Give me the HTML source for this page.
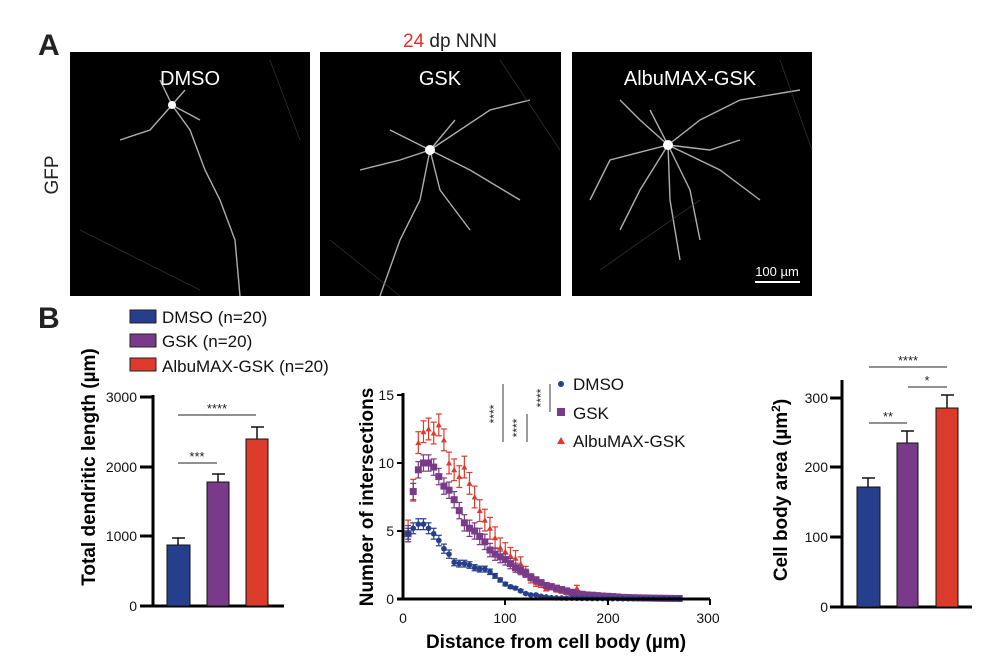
<!DOCTYPE html>
<html><head><meta charset="utf-8"><style>
body{margin:0;background:#fff;width:984px;height:666px;overflow:hidden;font-family:"Liberation Sans",sans-serif}
</style></head><body>
<svg id="s" width="984" height="666" xmlns="http://www.w3.org/2000/svg" font-family="Liberation Sans, sans-serif">
<text x="38" y="55" font-size="30" font-weight="bold" fill="#222">A</text>
<text x="450" y="47" font-size="19" text-anchor="middle" fill="#222"><tspan fill="#e0302a">24</tspan> dp NNN</text>
<text transform="translate(58,175) rotate(-90)" font-size="19" text-anchor="middle" fill="#222">GFP</text>
<rect x="70" y="52" width="240" height="244" fill="#000"/>
<rect x="320" y="52" width="241" height="244" fill="#000"/>
<rect x="572" y="52" width="240" height="244" fill="#000"/>
<g stroke="#ccc" fill="none" stroke-width="1.4" opacity="0.85">
<path d="M172 105 L150 130 L120 140 M172 105 L185 90 M172 105 L190 130 L205 170 L220 200 L235 240 L240 296 M172 105 L160 80 M172 105 L200 120"/>
<path d="M430 150 L400 160 L360 170 M430 150 L460 130 L490 110 L530 100 M430 150 L440 190 L470 230 M430 150 L420 200 L400 240 L380 296 M430 150 L390 130 M430 150 L470 170 L520 200 M430 150 L455 120"/>
<path d="M668 145 L640 120 L620 100 M668 145 L700 120 L740 100 L800 90 M668 145 L690 190 L700 240 M668 145 L640 190 L620 230 M668 145 L610 160 L590 200 M668 145 L720 170 L760 200 M668 145 L650 110 M668 145 L710 150 L740 140 M668 145 L670 200 L680 260"/>
</g>
<g stroke="#444" fill="none" stroke-width="0.8" opacity="0.7">
<path d="M80 230 L200 290 M270 60 L300 140 M330 240 L400 296 M500 60 L560 150 M600 270 L700 200 M780 60 L812 150"/>
</g>
<circle cx="172" cy="105" r="4" fill="#fff"/><circle cx="430" cy="150" r="5" fill="#fff"/><circle cx="668" cy="145" r="5" fill="#fff"/>
<g fill="#fff" font-size="20" text-anchor="middle"><text x="190" y="85">DMSO</text><text x="440" y="85">GSK</text><text x="690" y="85">AlbuMAX-GSK</text>
<text x="777" y="276" font-size="13">100 µm</text></g>
<line x1="755" y1="282" x2="800" y2="282" stroke="#fff" stroke-width="2"/>

<text x="38" y="328" font-size="30" font-weight="bold" fill="#222">B</text>
<g font-size="17" fill="#111">
<rect x="130" y="310" width="26" height="13" fill="#263f8c" stroke="#222"/><text x="162" y="323">DMSO (n=20)</text>
<rect x="130" y="334" width="26" height="13" fill="#7a3a8a" stroke="#222"/><text x="162" y="347">GSK (n=20)</text>
<rect x="130" y="358" width="26" height="13" fill="#e03a2c" stroke="#222"/><text x="162" y="372">AlbuMAX-GSK (n=20)</text>
</g>

<!-- left chart -->
<g stroke="#000" stroke-width="3"><line x1="153" y1="395" x2="153" y2="606"/><line x1="140" y1="606" x2="284" y2="606"/>
<line x1="140" y1="397" x2="153" y2="397"/><line x1="140" y1="467" x2="153" y2="467"/><line x1="140" y1="536" x2="153" y2="536"/></g>
<g font-size="14" text-anchor="end" fill="#111"><text x="137" y="402">3000</text><text x="137" y="472">2000</text><text x="137" y="541">1000</text><text x="137" y="611">0</text></g>
<g stroke="#111" stroke-width="1.5"><line x1="178" y1="545" x2="178" y2="538"/><line x1="172" y1="538" x2="185" y2="538"/>
<line x1="218" y1="482" x2="218" y2="474"/><line x1="212" y1="474" x2="225" y2="474"/>
<line x1="257" y1="439" x2="257" y2="427"/><line x1="251" y1="427" x2="264" y2="427"/></g>
<rect x="167" y="545" width="23" height="61" fill="#263f8c" stroke="#111"/>
<rect x="207" y="482" width="22" height="124" fill="#7a3a8a" stroke="#111"/>
<rect x="246" y="439" width="22" height="167" fill="#db3b2a" stroke="#111"/>
<g stroke="#222" stroke-width="1"><line x1="178" y1="415" x2="256" y2="415"/><line x1="178" y1="463" x2="217" y2="463"/></g>
<g font-size="13" text-anchor="middle" fill="#222"><text x="217" y="413">****</text><text x="197" y="461">***</text></g>
<text transform="translate(95,467) rotate(-90)" font-size="19" font-weight="bold" text-anchor="middle" fill="#000">Total dendritic length (µm)</text>

<!-- middle -->
<g id="mid"></g>
<g stroke="#000" stroke-width="3"><line x1="403" y1="393" x2="403" y2="600"/><line x1="397" y1="599" x2="710" y2="599"/></g>
<g stroke="#000" stroke-width="2"><line x1="397" y1="395" x2="403" y2="395"/><line x1="397" y1="463" x2="403" y2="463"/><line x1="397" y1="531" x2="403" y2="531"/>
<line x1="505" y1="599" x2="505" y2="605"/><line x1="608" y1="599" x2="608" y2="605"/><line x1="710" y1="599" x2="710" y2="605"/></g>
<g font-size="14" text-anchor="end" fill="#111"><text x="394" y="400">15</text><text x="394" y="468">10</text><text x="394" y="536">5</text><text x="394" y="604">0</text></g>
<g font-size="14" text-anchor="middle" fill="#111"><text x="403" y="623">0</text><text x="505" y="623">100</text><text x="608" y="623">200</text><text x="708" y="623">300</text></g>
<text transform="translate(373,497) rotate(-90)" font-size="19" font-weight="bold" text-anchor="middle" fill="#000">Number of intersections</text>
<text x="556" y="648" font-size="19" font-weight="bold" text-anchor="middle" fill="#000">Distance from cell body (µm)</text>
<g stroke="#666" stroke-width="1.3"><line x1="503" y1="384" x2="503" y2="442"/><line x1="527" y1="414" x2="527" y2="442"/><line x1="550" y1="384" x2="550" y2="412"/></g>
<g font-size="12" fill="#222" text-anchor="middle"><text transform="translate(498,414) rotate(-90)">****</text><text transform="translate(521,428) rotate(-90)">****</text><text transform="translate(545,398) rotate(-90)">****</text></g>
<circle cx="561" cy="384" r="3" fill="#263f8c"/><rect x="557" y="408" width="8" height="8" fill="#7a3a8a"/><path d="M557 444 L561 437 L565 444Z" fill="#e03a2c"/>
<g font-size="17" fill="#111"><text x="573" y="390">DMSO</text><text x="573" y="419">GSK</text><text x="573" y="447">AlbuMAX-GSK</text></g>

<!-- right -->
<g stroke="#000" stroke-width="3"><line x1="842" y1="380" x2="842" y2="607"/><line x1="830" y1="607" x2="972" y2="607"/>
<line x1="830" y1="398" x2="842" y2="398"/><line x1="830" y1="467" x2="842" y2="467"/><line x1="830" y1="537" x2="842" y2="537"/></g>
<g font-size="14" text-anchor="end" fill="#111"><text x="828" y="403">300</text><text x="828" y="472">200</text><text x="828" y="542">100</text><text x="828" y="612">0</text></g>
<g stroke="#111" stroke-width="1.5"><line x1="868" y1="487" x2="868" y2="478"/><line x1="862" y1="478" x2="875" y2="478"/>
<line x1="907" y1="443" x2="907" y2="431"/><line x1="901" y1="431" x2="914" y2="431"/>
<line x1="947" y1="408" x2="947" y2="395"/><line x1="941" y1="395" x2="954" y2="395"/></g>
<rect x="857" y="487" width="23" height="120" fill="#263f8c" stroke="#111"/>
<rect x="897" y="443" width="21" height="164" fill="#7a3a8a" stroke="#111"/>
<rect x="936" y="408" width="22" height="199" fill="#db3b2a" stroke="#111"/>
<g stroke="#222" stroke-width="1"><line x1="869" y1="367" x2="947" y2="367"/><line x1="908" y1="387" x2="947" y2="387"/><line x1="869" y1="423" x2="907" y2="423"/></g>
<g font-size="13" text-anchor="middle" fill="#222"><text x="908" y="365">****</text><text x="927" y="385">*</text><text x="888" y="421">**</text></g>
<text transform="translate(787,490) rotate(-90)" font-size="19" font-weight="bold" text-anchor="middle" fill="#000">Cell body area (µm<tspan font-size="12" dy="-7">2</tspan><tspan dy="7">)</tspan></text>
</svg>
<script>
var d=[4.8,5.2,5.5,5.5,5.2,4.8,4.3,3.7,3.3,2.7,2.6,2.6,2.5,2.3,2.2,2.2,2.0,1.7,1.4,1.1,0.9,0.8,0.6,0.4,0.3,0.3,0.2,0.15,0.1,0.08];
var g=[4.8,7.9,9.5,10,10,9.7,9,8.3,8,7.3,6.5,5.6,5.2,5,4.6,4.2,3.6,3.3,3.1,2.9,2.6,2.3,2.1,1.9,1.6,1.4,1.2,1.0,0.9,0.8,0.7,0.6,0.5,0.4,0.35,0.3,0.28,0.25,0.22,0.2,0.18,0.15,0.12];
var r=[5.0,8.0,11.5,12.3,12.5,12.2,12.8,11.7,10,9.5,9,9.7,8.5,7.5,6.5,5.8,5.2,4.5,3.8,3.5,3.2,3.0,2.6,2.0,1.5,1.2,1.1,0.8,0.9,0.7,0.6,0.5,0.4,0.8,0.35,0.3,0.25,0.2,0.15,0.12];
function ext(a){while(a.length<54)a.push(Math.max(0.02,a[a.length-1]*0.9));return a;}
ext(d);ext(g);ext(r);
var h='',X=function(v){return 403+v*1.023},Y=function(v){return 599-v*13.6};
function ser(a,col,sh,eb){for(var i=0;i<a.length;i++){var x=X(5*(i+1)),y=Y(a[i]),e=eb*Math.min(1,a[i]/5+0.1)*13.6;
h+='<line x1="'+x+'" y1="'+(y-e)+'" x2="'+x+'" y2="'+(y+e)+'" stroke="'+col+'" stroke-width="1.2"/>';
h+='<line x1="'+(x-3)+'" y1="'+(y-e)+'" x2="'+(x+3)+'" y2="'+(y-e)+'" stroke="'+col+'" stroke-width="1.2"/><line x1="'+(x-3)+'" y1="'+(y+e)+'" x2="'+(x+3)+'" y2="'+(y+e)+'" stroke="'+col+'" stroke-width="1.2"/>';
if(sh==0)h+='<circle cx="'+x+'" cy="'+y+'" r="2.8" fill="'+col+'"/>';
else if(sh==1)h+='<rect x="'+(x-3.5)+'" y="'+(y-3.5)+'" width="7" height="7" fill="'+col+'"/>';
else h+='<path d="M'+(x-3)+' '+(y+2.5)+' L'+x+' '+(y-3)+' L'+(x+3)+' '+(y+2.5)+'Z" fill="'+col+'"/>';}}
ser(r,'#e03a2c',2,0.8);ser(g,'#7a3a8a',1,0.6);ser(d,'#263f8c',0,0.4);
document.getElementById('mid').innerHTML=h;
</script>
</body></html>
